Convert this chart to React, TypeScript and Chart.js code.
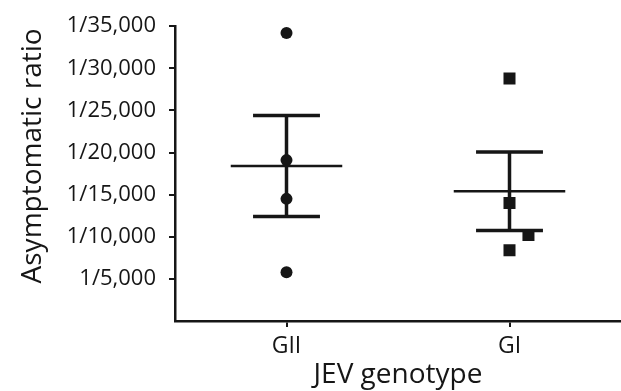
import React, { useEffect, useRef } from "react";
import { Chart, registerables } from "chart.js";

Chart.register(...registerables);

const categories = ["GII", "GI"];
const giiValues = [34200, 19100, 14500, 5800];
const giiX = [0, 0, 0, 0];
const giValues = [28800, 14000, 10200, 8400];
const giX = [1, 1, 1.085, 1];
const means = [18400, 15400];
const sems = [6000, 4650];
const yTickValues = [5000, 10000, 15000, 20000, 25000, 30000, 35000];
const xTitle = "JEV genotype";
const yTitle = "Asymptomatic ratio";

const FONT = "'Open Sans', sans-serif";
const INK = "#161616";
const MEAN_HALF = 0.25;
const CAP_HALF = 0.15;

const errorPlugin = {
  id: "meanSem",
  beforeDatasetsDraw(chart: any) {
    const { ctx } = chart;
    const xs = chart.scales.x;
    const ys = chart.scales.y;
    ctx.save();
    ctx.strokeStyle = INK;
    ctx.lineCap = "butt";
    means.forEach((m, i) => {
      const s = sems[i];
      const yM = ys.getPixelForValue(m);
      const yT = ys.getPixelForValue(m + s);
      const yB = ys.getPixelForValue(m - s);
      const xc = xs.getPixelForValue(i);
      ctx.lineWidth = 2.5;
      ctx.beginPath();
      ctx.moveTo(xs.getPixelForValue(i - MEAN_HALF), yM);
      ctx.lineTo(xs.getPixelForValue(i + MEAN_HALF), yM);
      ctx.stroke();
      ctx.lineWidth = 3.5;
      ctx.beginPath();
      ctx.moveTo(xc, yT);
      ctx.lineTo(xc, yB);
      ctx.stroke();
      ctx.beginPath();
      ctx.moveTo(xs.getPixelForValue(i - CAP_HALF), yT);
      ctx.lineTo(xs.getPixelForValue(i + CAP_HALF), yT);
      ctx.moveTo(xs.getPixelForValue(i - CAP_HALF), yB);
      ctx.lineTo(xs.getPixelForValue(i + CAP_HALF), yB);
      ctx.stroke();
    });
    ctx.restore();
  },
};

const yTitlePlugin = {
  id: "yTitle",
  afterDraw(chart: any) {
    const { ctx, chartArea } = chart;
    const cy = chartArea.top + (chartArea.bottom - chartArea.top) * 0.44;
    ctx.save();
    ctx.translate(33, cy);
    ctx.rotate(-Math.PI / 2);
    ctx.font = `28px ${FONT}`;
    ctx.fillStyle = INK;
    ctx.textAlign = "center";
    ctx.textBaseline = "middle";
    ctx.fillText(yTitle, 0, 0);
    ctx.restore();
  },
};

export default function App() {
  const ref = useRef<HTMLCanvasElement>(null);
  useEffect(() => {
    document.body.style.margin = "0";
    const chart = new Chart(ref.current!, {
      type: "scatter",
      data: {
        datasets: [
          {
            label: categories[0],
            data: giiValues.map((v, i) => ({ x: giiX[i], y: v })),
            pointStyle: "circle",
            pointRadius: 6,
            pointBackgroundColor: INK,
            pointBorderColor: INK,
            pointBorderWidth: 0,
          },
          {
            label: categories[1],
            data: giValues.map((v, i) => ({ x: giX[i], y: v })),
            pointStyle: "rect",
            pointRadius: 8.5,
            pointBackgroundColor: INK,
            pointBorderColor: INK,
            pointBorderWidth: 0,
          },
        ],
      },
      options: {
        animation: false,
        responsive: true,
        maintainAspectRatio: false,
        layout: { autoPadding: false, padding: { top: 24, right: 0, left: 0, bottom: 0 } },
        plugins: { legend: { display: false }, tooltip: { enabled: false } },
        scales: {
          x: {
            type: "linear",
            min: -0.5,
            max: 1.5,
            afterBuildTicks: (s: any) => {
              s.ticks = categories.map((_, i) => ({ value: i }));
            },
            afterFit: (s: any) => {
              s.height = 70;
              s.paddingLeft = 0;
              s.paddingRight = 0;
            },
            ticks: {
              callback: (v: any) => categories[v] ?? "",
              font: { family: FONT, size: 23 },
              color: INK,
              padding: 6,
              maxRotation: 0,
            },
            grid: {
              drawOnChartArea: false,
              drawTicks: true,
              tickLength: 6,
              color: INK,
              lineWidth: 2,
            },
            border: { display: true, color: INK, width: 2.5 },
            title: {
              display: true,
              text: xTitle,
              font: { family: FONT, size: 28 },
              color: INK,
              padding: { top: 0, bottom: -1 },
            },
          },
          y: {
            min: 0,
            max: 35000,
            afterBuildTicks: (s: any) => {
              s.ticks = yTickValues.map((v) => ({ value: v }));
            },
            afterFit: (s: any) => {
              s.width = 175;
            },
            ticks: {
              callback: (v: any) => "1/" + Number(v).toLocaleString("en-US"),
              font: { family: FONT, size: 22 },
              color: INK,
              padding: 13,
            },
            grid: {
              drawOnChartArea: false,
              drawTicks: true,
              tickLength: 6,
              color: INK,
              lineWidth: 2,
            },
            border: { display: true, color: INK, width: 2.5 },
            title: { display: false },
          },
        },
      },
      plugins: [errorPlugin, yTitlePlugin],
    });
    return () => chart.destroy();
  }, []);
  return (
    <div style={{ position: "relative", width: 621, height: 391 }}>
      <canvas ref={ref} />
    </div>
  );
}
